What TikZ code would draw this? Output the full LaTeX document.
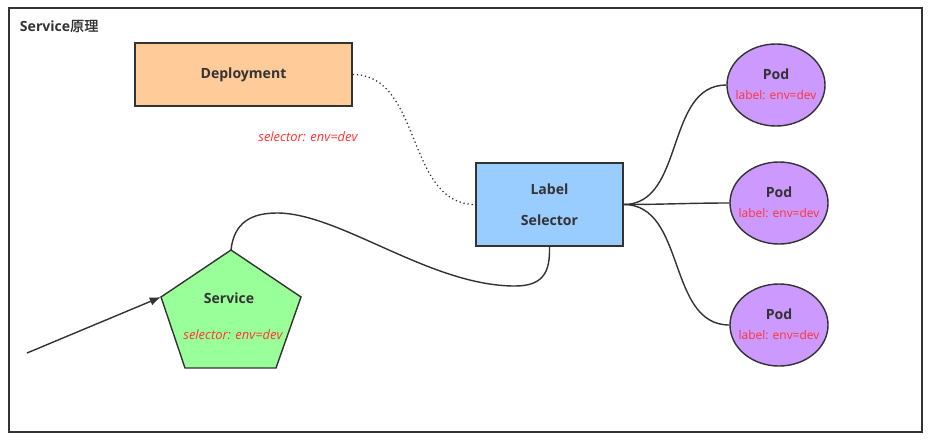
\documentclass[tikz,border=0pt]{standalone}
\usepackage{fontspec}
\setmainfont{Open Sans}
\newfontfamily\cjk[AutoFakeBold=1.5]{Noto Sans CJK SC}
\usepackage{tikz}
\usetikzlibrary{shapes.geometric, arrows.meta, positioning}

\definecolor{linegray}{HTML}{333333}
\definecolor{selred}{HTML}{FF3333}
\definecolor{deployfill}{HTML}{FFCC99}
\definecolor{selfill}{HTML}{99CCFF}
\definecolor{svcfill}{HTML}{99FF99}
\definecolor{podfill}{HTML}{CC99FF}

\tikzset{
	box/.style={draw=linegray, line width=1pt, inner sep=0pt, font=\bfseries\fontsize{10}{12}\selectfont, text=linegray},
	pod/.style={ellipse, draw=linegray, line width=1pt, fill=podfill, inner sep=0pt, minimum width=2.45cm, minimum height=2.05cm},
	redtext/.style={text=selred, font=\fontsize{8.5}{10}\selectfont},
	seltext/.style={text=selred, font=\itshape\fontsize{9.2}{11}\selectfont},
	boldtext/.style={text=linegray, font=\bfseries\fontsize{10}{12}\selectfont},
	conn/.style={draw=linegray, line width=1pt}
}

\begin{document}
\begin{tikzpicture}[x=0.025cm, y=-0.025cm]
	\useasboundingbox (0,0) rectangle (932,442);
	\draw[line width=1.1pt, linegray] (9,8) rectangle (922,432);
	\node[boldtext, anchor=west] (title) at (15,26) {Service{\cjk\bfseries 原理}};

	% deployment and selector
	\node[box, fill=deployfill, minimum width=5.425cm, minimum height=1.575cm] (deploy) at (243.5,74.5) {Deployment};
	\node[seltext] (deploysel) at (308,137) {selector: env=dev};
	\node[box, fill=selfill, minimum width=3.675cm, minimum height=2.075cm, align=center] (sel) at (549.5,204.5) {Label\\[10pt]Selector};

	% service
	\coordinate (svc1) at (231,250);
	\coordinate (svc2) at (301,297);
	\coordinate (svc3) at (276,368);
	\coordinate (svc4) at (185,368);
	\coordinate (svc5) at (161,297);
	\filldraw[conn, fill=svcfill, line join=miter] (svc1) -- (svc2) -- (svc3) -- (svc4) -- (svc5) -- cycle;
	\node[boldtext] (svc) at (229,298) {Service};
	\node[seltext] (svcsel) at (233,335) {selector: env=dev};
	\coordinate (client) at (27,353);

	% pods
	\foreach \i/\x/\y in {1/776/85, 2/779/203, 3/779/325} {
		\node[pod] (pod\i) at (\x,\y) {};
		\node[boldtext] at ([yshift=0.28cm]pod\i.center) {Pod};
		\node[redtext] at ([yshift=-0.25cm]pod\i.center) {label: env=dev};
		\draw[conn] (sel.east) to[out=0, in=180] (pod\i.west);
	}

	% connectors
	\draw[conn, line width=0.9pt, dotted] (deploy.east) to[out=0, in=180] (sel.west);
	\draw[conn] (svc1) .. controls (234,222) and (252,213) .. (277,213)
		.. controls (340,213) and (430,286) .. (515,286)
		.. controls (545,286) and (550,270) .. (sel.south);
	\draw[conn, -{Latex[length=8pt, width=6pt]}] (client) -- (svc5);
\end{tikzpicture}
\end{document}
